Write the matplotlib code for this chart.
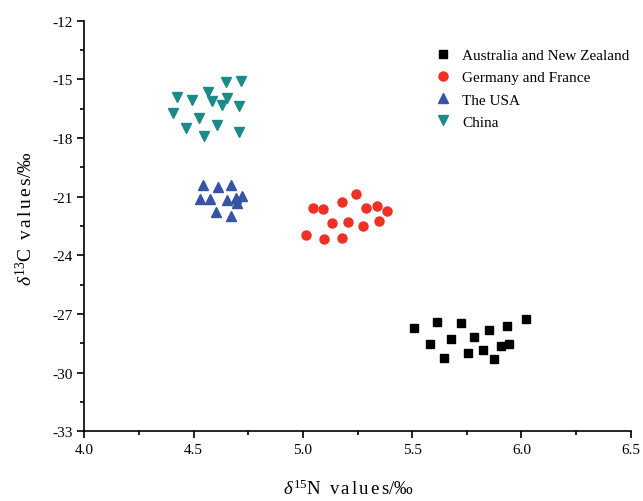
import matplotlib
matplotlib.use('Agg')
import matplotlib.pyplot as plt
from matplotlib.ticker import MultipleLocator, FormatStrFormatter

plt.rcParams['font.family'] = ['Liberation Serif', 'DejaVu Serif']
plt.rcParams['mathtext.fontset'] = 'custom'
plt.rcParams['mathtext.rm'] = 'Liberation Serif'
plt.rcParams['mathtext.it'] = 'Liberation Serif:italic'
plt.rcParams['axes.unicode_minus'] = False

# delta 15N (x) and delta 13C (y) for each origin
aus_x = [5.508, 5.613, 5.723, 5.850, 5.935, 6.019, 5.581, 5.677, 5.784, 5.905, 5.944, 5.645, 5.757, 5.824, 5.874]
aus_y = [-27.72, -27.43, -27.48, -27.81, -27.60, -27.27, -28.55, -28.27, -28.19, -28.64, -28.54, -29.25, -29.01, -28.86, -29.32]

ger_x = [5.243, 5.177, 5.048, 5.091, 5.289, 5.340, 5.386, 5.134, 5.208, 5.276, 5.348, 5.013, 5.098, 5.177]
ger_y = [-20.88, -21.26, -21.57, -21.63, -21.60, -21.48, -21.72, -22.35, -22.28, -22.49, -22.26, -22.96, -23.17, -23.13]

usa_x = [4.544, 4.610, 4.671, 4.529, 4.575, 4.651, 4.694, 4.723, 4.697, 4.602, 4.671]
usa_y = [-20.40, -20.52, -20.40, -21.12, -21.12, -21.16, -21.08, -20.95, -21.32, -21.80, -21.97]

chn_x = [4.647, 4.717, 4.425, 4.494, 4.564, 4.586, 4.654, 4.631, 4.708, 4.407, 4.525, 4.465, 4.606, 4.549, 4.708]
chn_y = [-15.15, -15.07, -15.92, -16.06, -15.63, -16.12, -15.97, -16.30, -16.38, -16.72, -16.98, -17.50, -17.34, -17.88, -17.71]

fig = plt.figure(figsize=(6.43, 5.02), dpi=100)
ax = fig.add_axes([0.131, 0.139, 0.850, 0.818])

ax.plot(aus_x, aus_y, 's', color='black', markersize=5.5, label='Australia and New Zealand')
ax.plot(ger_x, ger_y, 'o', color='#ee3124', markersize=6.5, label='Germany and France')
ax.plot(usa_x, usa_y, '^', color='#3653a4', markersize=7.5, label='The USA')
ax.plot(chn_x, chn_y, 'v', color='#1b8a8a', markersize=7.5, label='China')

ax.set_xlim(4.0, 6.5)
ax.set_ylim(-33, -12)
ax.xaxis.set_major_locator(MultipleLocator(0.5))
ax.xaxis.set_minor_locator(MultipleLocator(0.25))
ax.yaxis.set_major_locator(MultipleLocator(3))
ax.yaxis.set_minor_locator(MultipleLocator(1.5))
ax.xaxis.set_major_formatter(FormatStrFormatter('%.1f'))

ax.spines['top'].set_visible(False)
ax.spines['right'].set_visible(False)
for s in ['left', 'bottom']:
    ax.spines[s].set_linewidth(1.2)
ax.tick_params(which='major', direction='out', length=5, width=1.2, labelsize=11)
ax.tick_params(which='minor', direction='out', length=3, width=1.2)

# letter-spaced "values" like the original
xl = ax.set_xlabel(r'$\delta^{15}\mathrm{N\ \ v\,a\,l\,u\,e\,s/‰}$', fontsize=13.5)
yl = ax.set_ylabel(r'$\delta^{13}\mathrm{C\ \ v\,a\,l\,u\,e\,s/‰}$', fontsize=14)
ax.xaxis.set_label_coords(0.484, -0.14)
ax.yaxis.set_label_coords(-0.107, 0.52)
xl.set_verticalalignment('center')
yl.set_verticalalignment('center')

ax.legend(loc='upper left', bbox_to_anchor=(0.61, 0.965), frameon=False, fontsize=11,
          handletextpad=0.5, labelspacing=0.55, handlelength=1.5)

plt.savefig('out.png', dpi=100)
